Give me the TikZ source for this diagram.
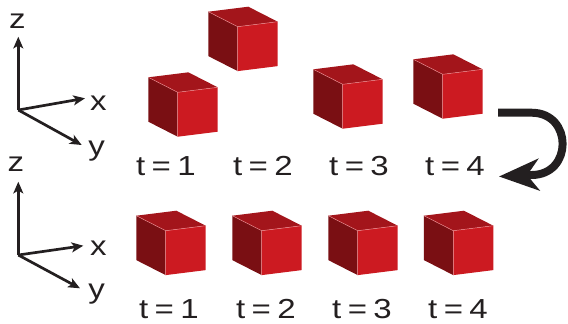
\documentclass[tikz,border=0pt]{standalone}
\usepackage{fontspec}
\setmainfont[FakeStretch=1.2,WordSpace=0.7]{Liberation Sans}
\usetikzlibrary{arrows.meta}
\definecolor{cubefront}{HTML}{CC1A21}
\definecolor{cubeside}{HTML}{7A0F13}
\definecolor{cubetop}{HTML}{A3151B}
\definecolor{cubeedge}{HTML}{E98A8E}
\definecolor{ink}{HTML}{231F20}
\tikzset{
  pics/cube/.style={code={
    \fill[cubeside] (0,0) -- (-29.4,-15) -- (-29.4,29.4) -- (0,44.4) -- cycle;
    \fill[cubetop] (0,0) -- (-29.4,-15) -- (10.6,-20) -- (40,-5) -- cycle;
    \fill[cubefront] (0,0) -- (40,-5) -- (40,39.4) -- (0,44.4) -- cycle;
    \draw[cubeedge,line width=.4pt] (-29.4,-15) -- (0,0) -- (40,-5) (0,0) -- (0,44.4);
  }},
  lbl/.style={anchor=base,text=ink,inner sep=0pt,font=\fontsize{23.5}{28}\selectfont},
  axis/.style={ink,line width=2.3pt,-{Stealth[length=10pt,width=8.5pt,inset=2.5pt]}},
}
\begin{document}
\begin{tikzpicture}[x=0.03cm,y=-0.03cm]
\useasboundingbox (0,0) rectangle (568,323);
%\draw[help lines,step=50] (0,0) grid (568,323);
% axes, top
\path
(18.3,110) coordinate (o1)
(18.3,36.7) coordinate (z1)
(85,98.3) coordinate (x1)
(81.7,145) coordinate (y1)
(17.5,28.3) node[lbl] (zl1) {z}
(98.3,110) node[lbl] (xl1) {x}
(96.7,155) node[lbl] (yl1) {y};
% axes, bottom
\path
(18.3,255) coordinate (o2)
(18.3,181.7) coordinate (z2)
(83.3,245.7) coordinate (x2)
(80,288.3) coordinate (y2)
(15.8,171.7) node[lbl] (zl2) {z}
(98.3,255) node[lbl] (xl2) {x}
(96.7,298) node[lbl] (yl2) {y};
\draw[axis] (o1)--(z1);
\draw[axis] (o1)--(x1);
\draw[axis] (o1)--(y1);
\draw[axis] (o2)--(z2);
\draw[axis] (o2)--(x2);
\draw[axis] (o2)--(y2);
% jumping cube
\path
(177.7,92.3) pic {cube}
(237.7,26.7) pic {cube}
(342.7,84.3) pic {cube}
(442.7,74.3) pic {cube}
(166,175) node[lbl] (ta1) {t = 1}
(263,175) node[lbl] (ta2) {t = 2}
(359,175) node[lbl] (ta3) {t = 3}
(455,175) node[lbl] (ta4) {t = 4};
% steady cube
\path
(165.7,230.7) pic {cube}
(261.7,230.7) pic {cube}
(357.7,230.7) pic {cube}
(453.3,230.7) pic {cube}
(169,318) node[lbl] (tb1) {t = 1}
(266,318) node[lbl] (tb2) {t = 2}
(362,318) node[lbl] (tb3) {t = 3}
(458,318) node[lbl] (tb4) {t = 4};
% turn-around arrow
\path
(498,112.7) coordinate (turn-a)
(531.5,112.7) coordinate (turn-b)
(531.5,175) coordinate (turn-c)
(499,176.5) coordinate (turn-d);
\draw[ink,line width=6.8pt,-{Stealth[length=34pt,width=27pt,inset=10pt]}]
  (turn-a) -- (turn-b) .. controls (573,112.7) and (573,175) .. (turn-c) -- (turn-d);
\end{tikzpicture}
\end{document}
